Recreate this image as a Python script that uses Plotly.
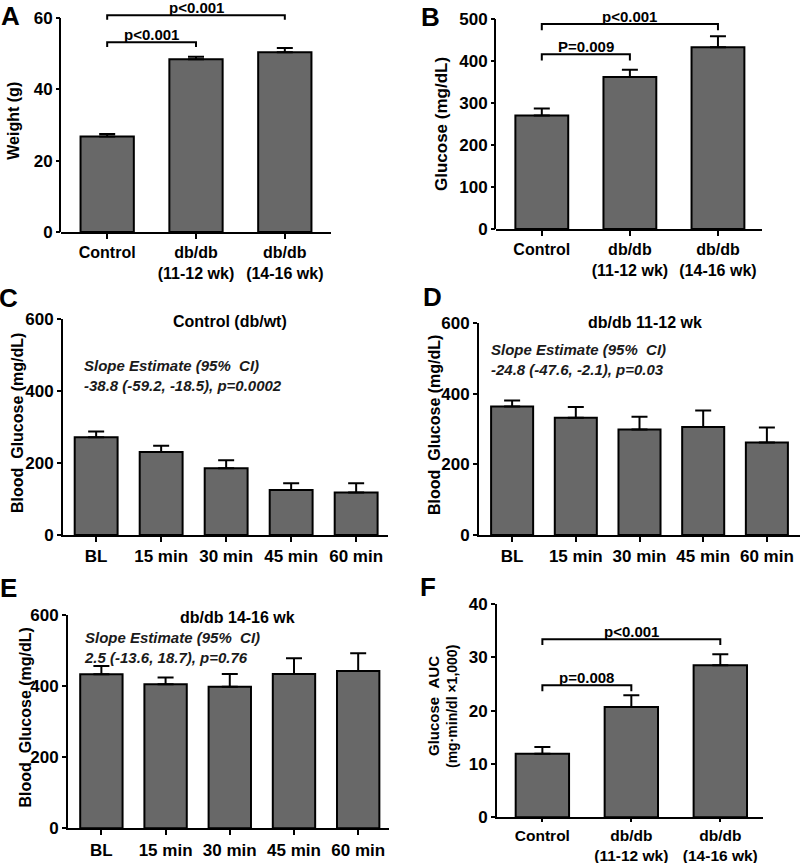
import plotly.graph_objects as go

W, H = 800, 863
FONT = "Liberation Sans, Arial, sans-serif"

# ---------------- data ----------------
groups3 = ["Control", "db/db<br>(11-12 wk)", "db/db<br>(14-16 wk)"]
times = ["BL", "15 min", "30 min", "45 min", "60 min"]

weight_mean = [26.8, 48.4, 50.4]
weight_sem = [0.7, 0.7, 1.2]
glucose_mean = [270, 362, 433]
glucose_sem = [17, 17, 26]
ctrl_mean = [272, 231, 186, 125, 118]
ctrl_sem = [16, 17, 22, 19, 26]
db1112_mean = [364, 332, 299, 306, 262]
db1112_sem = [17, 31, 36, 47, 43]
db1416_mean = [434, 406, 399, 435, 443]
db1416_sem = [23, 19, 36, 44, 50]
auc_mean = [11.9, 20.7, 28.5]
auc_sem = [1.3, 2.2, 2.1]

# brackets: (from, to, level, drop, label)
brackets_A = [(0, 1, 53.2, 1.3, "p<0.001"), (0, 2, 60.8, 1.3, "p<0.001")]
brackets_B = [(0, 1, 416, 15, "P=0.009"), (0, 2, 488, 15, "p<0.001")]
brackets_F = [(0, 1, 24.75, 1.1, "p=0.008"), (0, 2, 33.4, 1.1, "p<0.001")]


def px(x):
    return x / W


def py(y):
    return 1 - y / H


panels = [
    dict(cats=groups3, mean=weight_mean, sem=weight_sem, xl=61, xr=331, ybot=232, ytp=18,
         ymax=60, rtop=64, dtick=20, xr_=[-0.52, 2.52], w=0.6, br=brackets_A, fs=16, tl=5),
    dict(cats=groups3, mean=glucose_mean, sem=glucose_sem, xl=496, xr=762, ybot=229, ytp=19,
         ymax=500, rtop=520, dtick=100, xr_=[-0.52, 2.5], w=0.6, br=brackets_B, fs=16, tl=5),
    dict(cats=times, mean=ctrl_mean, sem=ctrl_sem, xl=63, xr=388, ybot=535, ytp=319.3,
         ymax=600, rtop=600, dtick=200, xr_=[-0.51, 4.49], w=0.66, br=[], fs=17, tl=5),
    dict(cats=times, mean=db1112_mean, sem=db1112_sem, xl=479, xr=800, ybot=535, ytp=323.3,
         ymax=600, rtop=600, dtick=200, xr_=[-0.52, 4.52], w=0.66, br=[], fs=17, tl=5),
    dict(cats=times, mean=db1416_mean, sem=db1416_sem, xl=68, xr=389, ybot=828.3, ytp=615.3,
         ymax=600, rtop=600, dtick=200, xr_=[-0.52, 4.48], w=0.66, br=[], fs=17, tl=5),
    dict(cats=groups3, mean=auc_mean, sem=auc_sem, xl=497, xr=763, ybot=817.3, ytp=604,
         ymax=40, rtop=40, dtick=10, xr_=[-0.51, 2.48], w=0.6, br=brackets_F, fs=15.5, tl=3),
]

fig = go.Figure()
layout = dict(width=W, height=H, margin=dict(l=0, r=0, t=0, b=0, pad=0, autoexpand=False),
              template="none",
              paper_bgcolor="white", plot_bgcolor="white", showlegend=False,
              font=dict(family=FONT, color="black"))
shapes = []
annotations = []

for i, p in enumerate(panels):
    n = i + 1
    xa = "x" if n == 1 else f"x{n}"
    ya = "y" if n == 1 else f"y{n}"
    xs = list(range(len(p["cats"])))
    tickfont = dict(family=FONT, size=p["fs"], color="black", weight="bold")
    fig.add_trace(go.Bar(
        x=xs, y=p["mean"], width=p["w"], xaxis=xa, yaxis=ya,
        marker=dict(color="#686868", line=dict(color="black", width=2)),
        error_y=dict(type="data", symmetric=False, array=p["sem"],
                     arrayminus=[0] * len(xs), color="black", thickness=2, width=8),
        hoverinfo="skip",
    ))
    top_px = p["ybot"] - (p["ybot"] - p["ytp"]) * p["rtop"] / p["ymax"]
    xkey = "xaxis" if n == 1 else f"xaxis{n}"
    ykey = "yaxis" if n == 1 else f"yaxis{n}"
    layout[xkey] = dict(domain=[px(p["xl"]), px(p["xr"])], anchor=ya, range=p["xr_"],
                        tickvals=xs, ticktext=p["cats"], showline=True, linecolor="black",
                        linewidth=2, ticks="outside", ticklen=p["tl"], tickwidth=2,
                        tickcolor="black", showgrid=False, zeroline=False, automargin=False,
                        tickfont=tickfont, fixedrange=True)
    yv = list(range(0, p["ymax"] + 1, p["dtick"]))
    layout[ykey] = dict(domain=[py(p["ybot"]), py(top_px)], anchor=xa,
                        range=[0, p["rtop"]], tickvals=yv,
                        showline=(p["rtop"] == p["ymax"]), linecolor="black", linewidth=2,
                        ticks="outside", ticklen=4, tickwidth=2, tickcolor="black",
                        showgrid=False, zeroline=False, automargin=False,
                        tickfont=dict(family=FONT, size=17, color="black", weight="bold"),
                        fixedrange=True)
    if p["rtop"] != p["ymax"]:
        shapes.append(dict(type="line", xref="paper", yref=ya,
                           x0=px(p["xl"]) - 1 / W, x1=px(p["xl"]) - 1 / W,
                           y0=0, y1=p["ymax"], line=dict(color="black", width=2)))
    for (a, b, lvl, drop, lab) in p["br"]:
        shapes.append(dict(type="path", xref=xa, yref=ya,
                           path=f"M {a},{lvl - drop} L {a},{lvl} L {b},{lvl} L {b},{lvl - drop}",
                           line=dict(color="black", width=2)))
        annotations.append(dict(xref=xa, yref=ya, x=(a + b) / 2, y=lvl, yanchor="bottom",
                                yshift=-3, text=lab, showarrow=False,
                                font=dict(family=FONT, size=15, color="black", weight="bold")))

# y-axis titles
ytitles = [
    ("Weight (g)", 12.7, 121, 16),
    ("Glucose (mg/dL)", 442, 124, 17),
    ("Blood\u00a0\u00a0Glucose (mg/dL)", 17, 423, 16),
    ("Blood\u00a0\u00a0Glucose (mg/dL)", 434, 425, 16),
    ("Blood\u00a0\u00a0Glucose (mg/dL)", 24.5, 718, 16),
    ("Glucose\u00a0\u00a0AUC", 433, 706, 15),
    ("(mg·min/dl ×1,000)", 452, 706, 14),
]
for t, x, y, s in ytitles:
    annotations.append(dict(xref="paper", yref="paper", x=px(x), y=py(y), text=t,
                            textangle=-90, showarrow=False, xanchor="center", yanchor="middle",
                            font=dict(family=FONT, size=s, color="black", weight="bold")))

# panel letters
for t, x, y in [("A", 10, 16.5), ("B", 430, 17), ("C", 8, 298), ("D", 432, 297),
                ("E", 8, 588), ("F", 428, 587)]:
    annotations.append(dict(xref="paper", yref="paper", x=px(x), y=py(y), text=t,
                            showarrow=False, xanchor="center", yanchor="middle",
                            font=dict(family=FONT, size=26, color="black", weight="bold")))

# panel titles
for t, x, y in [("Control (db/wt)", 230, 321), ("db/db 11-12 wk", 645, 323),
                ("db/db 14-16 wk", 237, 617)]:
    annotations.append(dict(xref="paper", yref="paper", x=px(x), y=py(y), text=t,
                            showarrow=False, xanchor="center", yanchor="middle",
                            font=dict(family=FONT, size=16, color="black", weight="bold")))

# slope annotations
for t, x, y in [
    ("Slope Estimate (95%\u00a0\u00a0CI)<br>-38.8 (-59.2, -18.5), p=0.0002", 82, 376),
    ("Slope Estimate (95%\u00a0\u00a0CI)<br>-24.8 (-47.6, -2.1), p=0.03", 489, 359),
    ("Slope Estimate (95%\u00a0\u00a0CI)<br>2.5 (-13.6, 18.7), p=0.76", 82, 647),
]:
    annotations.append(dict(xref="paper", yref="paper", x=px(x), y=py(y), text=t,
                            showarrow=False, xanchor="left", yanchor="middle", align="left",
                            font=dict(family=FONT, size=15, color="#1a1a1a", weight="bold",
                                      style="italic")))

layout["shapes"] = shapes
layout["annotations"] = annotations
fig.update_layout(**layout)
fig.write_html(
    "out.html",
    config={"displayModeBar": False, "staticPlot": True},
    post_script="document.body.style.margin='0';document.body.style.overflow='hidden';",
)
